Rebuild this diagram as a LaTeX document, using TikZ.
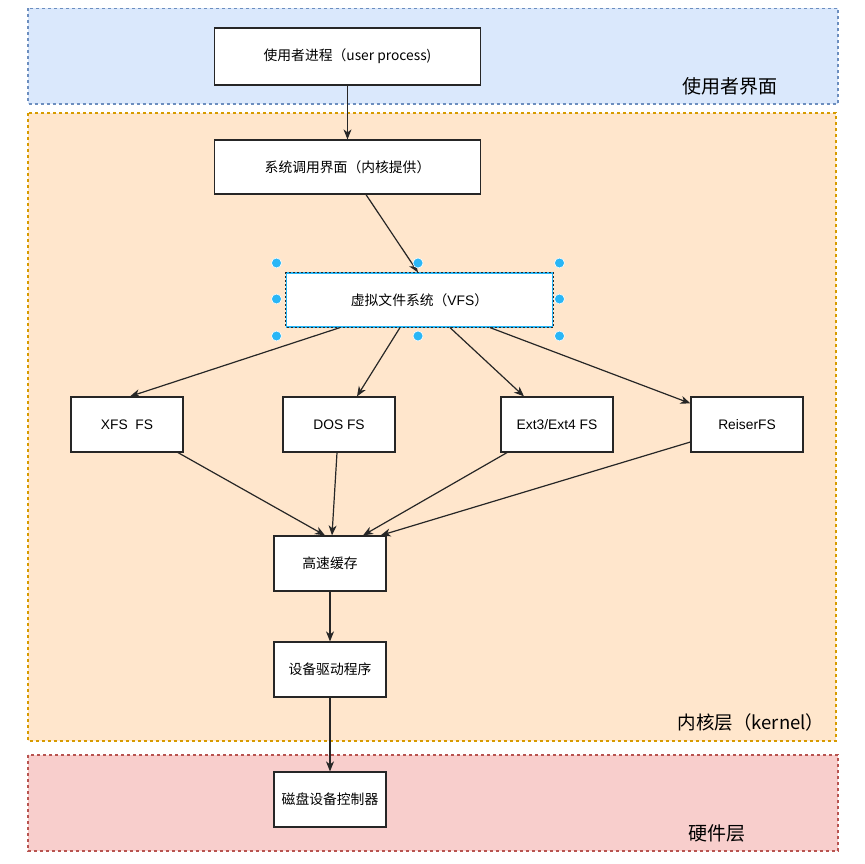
\documentclass[tikz,border=0pt]{standalone}
\usepackage{fontspec}
\setmainfont{Liberation Sans}
\newfontfamily\cjk{Noto Sans CJK SC}
\usetikzlibrary{arrows.meta,calc}
\definecolor{bluefill}{HTML}{DAE8FC}
\definecolor{bluedraw}{HTML}{6C8EBF}
\definecolor{orfill}{HTML}{FFE6CC}
\definecolor{ordraw}{HTML}{D79B00}
\definecolor{redfill}{HTML}{F8CECC}
\definecolor{reddraw}{HTML}{B85450}
\definecolor{handle}{HTML}{29B6F6}
\tikzset{
  panel/.style={line width=1.1pt, dash pattern=on 3pt off 3pt},
  box/.style={draw=black!85, fill=white, line width=1.2pt, inner sep=0pt,
    font=\fontsize{13.8pt}{16pt}\selectfont, text=black},
  wbox/.style={box, minimum width=266pt, minimum height=55pt},
  sbox/.style={box, minimum width=112pt, minimum height=55pt},
  arr/.style={draw=black!85, line width=1.2pt, -{Stealth[length=10pt,width=8pt,inset=3pt]}},
  plabel/.style={font=\fontsize{19pt}{22pt}\selectfont\cjk, text=black, inner sep=0pt},
  hdl/.style={circle, fill=handle, draw=white, line width=0.6pt, minimum size=10pt, inner sep=0pt}
}
\begin{document}
\begin{tikzpicture}[x=1pt,y=-1pt]
\useasboundingbox[fill=white] (0,0) rectangle (865,864);
% panels
\draw[panel, fill=bluefill, draw=bluedraw] (28,8.5) rectangle (838,104);
\draw[panel, fill=orfill, draw=ordraw] (28,113) rectangle (836,741);
\draw[panel, fill=redfill, draw=reddraw] (28,755) rectangle (838,851);
\node[plabel] (lu) at (730,86) {使用者界面};
\node[plabel, font=\fontsize{18.5pt}{22pt}\selectfont\cjk] (lk) at (751,722) {内核层（kernel）};
\node[plabel] (lh) at (717,833) {硬件层};
% nodes
\node[wbox, minimum height=57pt] (user) at (347.5,56.5) {\cjk 使用者进程（user process)};
\node[wbox, minimum height=54pt] (sys) at (347.5,167) {\cjk 系统调用界面（内核提供）};
\node[wbox, minimum height=54pt, draw=handle] (vfs) at (419.5,300) {{\cjk 虚拟文件系统（}VFS{\cjk ）}};
\draw[black!85, line width=1.1pt, dash pattern=on 2pt off 2pt] (vfs.north west) rectangle (vfs.south east);
\node[sbox] (xfs) at (127,424.5) {XFS\ \ FS};
\node[sbox] (dos) at (339,424.5) {DOS FS};
\node[sbox] (ext) at (557,424.5) {Ext3/Ext4 FS};
\node[sbox] (rfs) at (747,424.5) {ReiserFS};
\node[sbox] (cache) at (330,563.5) {\cjk 高速缓存};
\node[sbox] (drv) at (330,669.5) {\cjk 设备驱动程序};
\node[sbox] (disk) at (330,799.5) {\cjk 磁盘设备控制器};
% connectors
\draw[arr] (user.south) -- (sys.north);
\draw[arr] ([xshift=18.5pt]sys.south) -- ([xshift=-1.5pt]vfs.north);
\draw[arr] ([xshift=-79.5pt]vfs.south) -- ([xshift=3pt]xfs.north);
\draw[arr] ([xshift=-19.5pt]vfs.south) -- ([xshift=18pt]dos.north);
\draw[arr] ([xshift=30.5pt]vfs.south) -- ([xshift=-33pt]ext.north);
\draw[arr] ([xshift=70.5pt]vfs.south) -- ([yshift=-7pt]rfs.north west);
\draw[arr] ([xshift=51pt]xfs.south) -- ([xshift=-5pt]cache.north);
\draw[arr] ([xshift=-2pt]dos.south) -- ([xshift=2pt]cache.north);
\draw[arr] ([xshift=-50pt]ext.south) -- ([xshift=33pt]cache.north);
\draw[arr] ([yshift=-17.5pt]rfs.west) -- ([xshift=-6pt]cache.north east);
\draw[arr] (cache.south) -- (drv.north);
\draw[arr] (drv.south) -- (disk.north);
% selection handles
\node[hdl] (h1) at (276.5,263) {};
\node[hdl] (h2) at (418,263) {};
\node[hdl] (h3) at (559.5,263) {};
\node[hdl] (h4) at (276.5,299) {};
\node[hdl] (h5) at (559.5,299) {};
\node[hdl] (h6) at (276.5,336) {};
\node[hdl] (h7) at (418,336) {};
\node[hdl] (h8) at (559.5,336) {};
\end{tikzpicture}
\end{document}
